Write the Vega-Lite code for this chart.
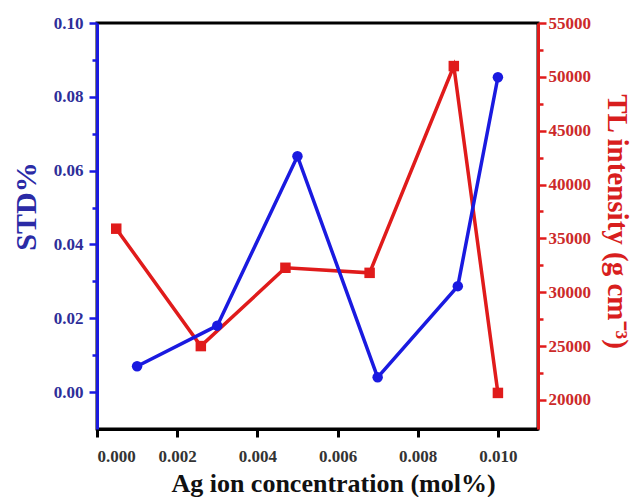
{
  "$schema": "https://vega.github.io/schema/vega-lite/v6.json",
  "autosize": {"type": "none"},
  "width": 441,
  "height": 406,
  "padding": {"left": 97, "top": 23, "right": 102, "bottom": 68},
  "background": "white",
  "config": {
    "view": {"stroke": "black", "strokeWidth": 3},
    "axis": {"grid": false, "labelFont": "Liberation Serif", "labelFontWeight": "bold", "titleFont": "Liberation Serif", "titleFontWeight": "bold", "zindex": 1}
  },
  "datasets": {
    "std": [
      {"conc": 0.001, "std": 0.0070},
      {"conc": 0.003, "std": 0.0180},
      {"conc": 0.005, "std": 0.0639},
      {"conc": 0.007, "std": 0.0040},
      {"conc": 0.009, "std": 0.0287},
      {"conc": 0.010, "std": 0.0853}
    ],
    "tl": [
      {"conc": 0.00048, "tl": 35900},
      {"conc": 0.00259, "tl": 25000},
      {"conc": 0.0047, "tl": 32270},
      {"conc": 0.0068, "tl": 31800},
      {"conc": 0.0089, "tl": 51000},
      {"conc": 0.0100, "tl": 20650}
    ]
  },
  "encoding": {
    "x": {
      "field": "conc", "type": "quantitative",
      "scale": {"domain": [0, 0.011], "nice": false, "zero": false},
      "axis": {
        "title": "Ag ion concentration (mol%)",
        "values": [0, 0.002, 0.004, 0.006, 0.008, 0.010],
        "format": ".3f",
        "labelFontSize": 17, "labelColor": "#333333", "labelPadding": 11,
        "titleFontSize": 26, "titleColor": "#111111", "titleX": 236, "titleY": 41,
        "domainColor": "black", "domainWidth": 3,
        "tickColor": "black", "tickWidth": 3, "tickSize": 8
      }
    }
  },
  "layer": [
    {
      "data": {"name": "tl"},
      "mark": {"type": "line", "color": "#e01b1b", "strokeWidth": 3.5,
               "point": {"shape": "square", "size": 110, "filled": true, "color": "#e01b1b", "opacity": 1}},
      "encoding": {
        "y": {
          "field": "tl", "type": "quantitative",
          "scale": {"domain": [17300, 55000], "nice": false, "zero": false},
          "axis": {
            "orient": "right",
            "title": "TL intensity (g cm⁻³)",
            "values": [20000, 22500, 25000, 27500, 30000, 32500, 35000, 37500, 40000, 42500, 45000, 47500, 50000, 52500, 55000],
            "labelExpr": "datum.value % 5000 == 0 ? format(datum.value, 'd') : ''",
            "labelFontSize": 17, "labelColor": "#cc2a2a", "labelPadding": 2,
            "titleFontSize": 29, "titleColor": "#d81e1e", "titleX": 63, "titleY": 198,
            "domainColor": "#e01b1b", "domainWidth": 3,
            "tickColor": "#e01b1b", "tickWidth": 2.5,
            "tickSize": {"condition": {"test": "datum.value % 5000 == 0", "value": 8}, "value": 5}
          }
        }
      }
    },
    {
      "data": {"name": "std"},
      "mark": {"type": "line", "color": "#1a1ae0", "strokeWidth": 3.5,
               "point": {"shape": "circle", "size": 110, "filled": true, "color": "#1a1ae0", "opacity": 1}},
      "encoding": {
        "y": {
          "field": "std", "type": "quantitative",
          "scale": {"domain": [-0.01, 0.10], "nice": false, "zero": false},
          "axis": {
            "orient": "left",
            "title": "STD%",
            "values": [0, 0.01, 0.02, 0.03, 0.04, 0.05, 0.06, 0.07, 0.08, 0.09, 0.10],
            "labelExpr": "round(datum.value * 100) % 2 == 0 ? format(datum.value, '.2f') : ''",
            "labelFontSize": 17, "labelColor": "#2e2e99", "labelPadding": 6,
            "titleFontSize": 30, "titleColor": "#2b2ba6", "titleX": -56, "titleY": 183,
            "domainColor": "#1a1ae0", "domainWidth": 3,
            "tickColor": "#1a1ae0", "tickWidth": 2.5,
            "tickSize": {"condition": {"test": "round(datum.value * 100) % 2 == 0", "value": 8}, "value": 5}
          }
        }
      }
    }
  ],
  "resolve": {"scale": {"y": "independent"}}
}
